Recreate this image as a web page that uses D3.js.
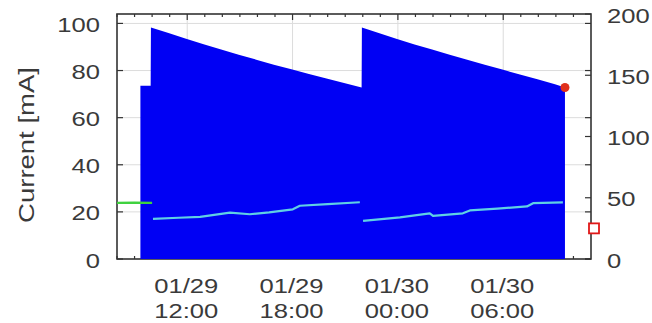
<!DOCTYPE html>
<html>
<head>
<meta charset="utf-8">
<script src="https://cdn.jsdelivr.net/npm/d3@7"></script>
<style>
  html, body { margin: 0; padding: 0; background: #fff; }
  svg { display: block; }
  text { font-family: "Liberation Sans", Arial, sans-serif; fill: #3a3a3a; }
</style>
</head>
<body>
<svg id="chart" width="652" height="323"></svg>
<script>
// Beam current, two fill cycles
const currentTimes = [
  "01/29 09:20", "01/29 09:55",
  "01/29 09:56", "01/29 10:56", "01/29 11:56", "01/29 12:56", "01/29 13:56",
  "01/29 14:56", "01/29 15:56", "01/29 16:56", "01/29 17:56", "01/29 18:56",
  "01/29 19:56", "01/29 20:56", "01/29 21:56",
  "01/29 21:57", "01/29 22:57", "01/29 23:57", "01/30 00:57", "01/30 01:57",
  "01/30 02:57", "01/30 03:57", "01/30 04:57", "01/30 05:57", "01/30 06:57",
  "01/30 07:57", "01/30 08:57", "01/30 09:31"
];
const currentValues = [
  73.5, 73.5,
  98.3, 95.9, 93.5, 91.2, 88.9,
  86.7, 84.6, 82.5, 80.5, 78.5,
  76.6, 74.7, 72.8,
  98.3, 95.8, 93.4, 91.1, 88.9,
  86.7, 84.6, 82.5, 80.4, 78.3,
  76.3, 74.2, 72.8
];

// Secondary trace (left-axis units), one segment per run
const traceSegments = [
  { color: "#3fd23f",
    times: ["01/29 08:00", "01/29 09:00", "01/29 10:00"],
    values: [23.8, 23.9, 23.8] },
  { color: "#5fd0e4",
    times: ["01/29 10:03", "01/29 11:30", "01/29 12:44", "01/29 14:26", "01/29 15:34",
            "01/29 16:40", "01/29 18:01", "01/29 18:25", "01/29 20:00", "01/29 21:50"],
    values: [17.0, 17.5, 17.9, 19.7, 19.0, 19.8, 21.1, 22.6, 23.3, 24.1] },
  { color: "#5fd0e4",
    times: ["01/29 22:01", "01/30 00:07", "01/30 01:49", "01/30 02:00",
            "01/30 03:42", "01/30 04:06", "01/30 05:40", "01/30 07:21", "01/30 07:42", "01/30 09:24"],
    values: [16.2, 17.7, 19.4, 18.3, 19.4, 20.6, 21.4, 22.3, 23.7, 24.0] }
];

// Marker on the right axis
const markerValue = 25;

// Axis ticks and labels
const leftTicks = [0, 20, 40, 60, 80, 100];
const rightTicks = [0, 50, 100, 150, 200];
const xMajorTicks = ["01/29 12:00", "01/29 18:00", "01/30 00:00", "01/30 06:00"];
const xTickLabels = [["01/29", "12:00"], ["01/29", "18:00"], ["01/30", "00:00"], ["01/30", "06:00"]];
const xDomain = ["01/29 08:00", "01/30 11:00"];
const yLeftDomain = [0, 104];
const yRightDomain = [0, 200];
const yLabel = "Current [mA]";

const parse = d3.utcParse("%m/%d %H:%M");
const plot = { left: 117, right: 591, top: 14, bottom: 259 };
const stretch = 1.22;

const svg = d3.select("#chart");

const x = d3.scaleUtc().domain(xDomain.map(parse)).range([plot.left, plot.right]);
const yL = d3.scaleLinear().domain(yLeftDomain).range([plot.bottom, plot.top]);
const yR = d3.scaleLinear().domain(yRightDomain).range([plot.bottom, plot.top]);

// Grid
const grid = svg.append("g").attr("stroke", "#dcdcdc").attr("stroke-width", 1);
grid.selectAll("line.gx").data(xMajorTicks.map(parse)).join("line")
  .attr("x1", d => x(d)).attr("x2", d => x(d))
  .attr("y1", plot.top).attr("y2", plot.bottom);
grid.selectAll("line.gy").data(leftTicks.filter(v => v > 0)).join("line")
  .attr("x1", plot.left).attr("x2", plot.right)
  .attr("y1", d => yL(d)).attr("y2", d => yL(d));

// Frame and inward ticks
const frame = svg.append("g").attr("stroke", "#333").attr("fill", "none");
frame.append("rect")
  .attr("x", plot.left).attr("y", plot.top)
  .attr("width", plot.right - plot.left).attr("height", plot.bottom - plot.top)
  .attr("stroke-width", 1.6);

const hours = d3.utcHour.range(parse(xDomain[0]), parse(xDomain[1]));
const majorSet = new Set(xMajorTicks.map(s => +parse(s)));
hours.forEach(h => {
  const len = majorSet.has(+h) ? 6 : 3;
  frame.append("line").attr("x1", x(h)).attr("x2", x(h))
    .attr("y1", plot.top).attr("y2", plot.top + len).attr("stroke-width", 1.2);
  frame.append("line").attr("x1", x(h)).attr("x2", x(h))
    .attr("y1", plot.bottom).attr("y2", plot.bottom - len).attr("stroke-width", 1.2);
});
leftTicks.forEach(v => {
  frame.append("line").attr("x1", plot.left).attr("x2", plot.left + 6)
    .attr("y1", yL(v)).attr("y2", yL(v)).attr("stroke-width", 1.2);
  frame.append("line").attr("x1", plot.right).attr("x2", plot.right - 6)
    .attr("y1", yL(v)).attr("y2", yL(v)).attr("stroke-width", 1.2);
});
rightTicks.forEach(v => {
  frame.append("line").attr("x1", plot.right).attr("x2", plot.right - 6)
    .attr("y1", yR(v)).attr("y2", yR(v)).attr("stroke-width", 1.2);
});

// Current area
const currentData = currentTimes.map((t, i) => ({ t: parse(t), v: currentValues[i] }));
svg.append("path")
  .datum(currentData)
  .attr("fill", "#0000f4")
  .attr("d", d3.area().x(d => x(d.t)).y0(yL(0)).y1(d => yL(d.v)));

// Trace lines
const line = d3.line().x(d => x(d.t)).y(d => yL(d.v));
traceSegments.forEach(seg => {
  const data = seg.times.map((t, i) => ({ t: parse(t), v: seg.values[i] }));
  svg.append("path").datum(data)
    .attr("fill", "none").attr("stroke", seg.color)
    .attr("stroke-width", 2.2).attr("stroke-linejoin", "round")
    .attr("d", line);
});

// Latest current point
const last = currentData[currentData.length - 1];
svg.append("circle")
  .attr("cx", x(last.t)).attr("cy", yL(last.v)).attr("r", 4.5)
  .attr("fill", "#e0301c");

// Right-axis marker
svg.append("rect")
  .attr("x", plot.right + 3 - 5).attr("y", yR(markerValue) - 5)
  .attr("width", 10).attr("height", 10)
  .attr("fill", "#fff").attr("stroke", "#e01818").attr("stroke-width", 1.8);

// Labels
function label(px, py, txt, anchor) {
  return svg.append("text")
    .attr("transform", `translate(${px},${py}) scale(${stretch},1)`)
    .attr("text-anchor", anchor)
    .attr("font-size", 21)
    .text(txt);
}
leftTicks.forEach(v => label(plot.left - 17, yL(v) + 8.5, String(v), "end"));
rightTicks.forEach(v => label(plot.left + 490, yR(v) + 8.5, String(v), "start"));
xMajorTicks.forEach((s, i) => {
  const t = svg.append("text")
    .attr("transform", `translate(${x(parse(s)) - 1},0) scale(${stretch},1)`)
    .attr("text-anchor", "middle").attr("font-size", 21);
  t.append("tspan").attr("x", 0).attr("y", 293).text(xTickLabels[i][0]);
  t.append("tspan").attr("x", 0).attr("y", 318).text(xTickLabels[i][1]);
});
svg.append("text")
  .attr("transform", `translate(34,145) rotate(-90) scale(1.25,1)`)
  .attr("text-anchor", "middle")
  .attr("font-size", 22)
  .text(yLabel);
</script>
</body>
</html>
